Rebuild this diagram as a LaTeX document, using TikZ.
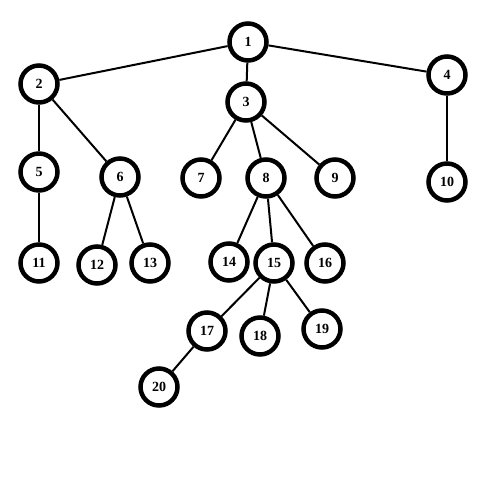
\documentclass[tikz,border=0pt]{standalone}
\usepackage{fontspec}
\setmainfont{Liberation Serif}
\usepackage{tikz}
\usetikzlibrary{positioning}

\begin{document}
\begin{tikzpicture}[x=1pt,y=-1pt,
  vtx/.style={draw,circle,line width=4.5pt,fill=white,inner sep=0pt,minimum size=37pt,font=\fontsize{14}{16}\selectfont\bfseries},
  edge/.style={line width=2pt}]
  \useasboundingbox (0,0) rectangle (485,485);
  \node[vtx] (n1) at (248,42) {1};
  \node[vtx] (n2) at (39,84) {2};  \node[vtx] (n3) at (246,102) {3};  \node[vtx] (n4) at (447,75) {4};
  \node[vtx] (n5) at (39,172) {5};  \node[vtx] (n6) at (120,177) {6};  \node[vtx] (n7) at (201,178) {7};
  \node[vtx] (n8) at (266,178) {8};  \node[vtx] (n9) at (335,178) {9};  \node[vtx] (n10) at (447,182) {10};
  \node[vtx] (n11) at (39,263) {11};  \node[vtx] (n12) at (97,265) {12};  \node[vtx] (n13) at (150,263) {13};
  \node[vtx] (n14) at (229,262) {14};  \node[vtx] (n15) at (274,263) {15};  \node[vtx] (n16) at (325,263) {16};
  \node[vtx] (n17) at (207,331) {17};  \node[vtx] (n18) at (260,336) {18};  \node[vtx] (n19) at (322,329) {19};
  \node[vtx] (n20) at (159,387) {20};
  \draw[edge] (n1) -- (n2);  \draw[edge] (n1) -- (n3);  \draw[edge] (n1) -- (n4);
  \draw[edge] (n2) -- (n5);  \draw[edge] (n2) -- (n6);
  \draw[edge] (n3) -- (n7);  \draw[edge] (n3) -- (n8);  \draw[edge] (n3) -- (n9);
  \draw[edge] (n4) -- (n10);  \draw[edge] (n5) -- (n11);
  \draw[edge] (n6) -- (n12);  \draw[edge] (n6) -- (n13);
  \draw[edge] (n8) -- (n14);  \draw[edge] (n8) -- (n15);  \draw[edge] (n8) -- (n16);
  \draw[edge] (n15) -- (n17);  \draw[edge] (n15) -- (n18);  \draw[edge] (n15) -- (n19);
  \draw[edge] (n17) -- (n20);
\end{tikzpicture}
\end{document}
